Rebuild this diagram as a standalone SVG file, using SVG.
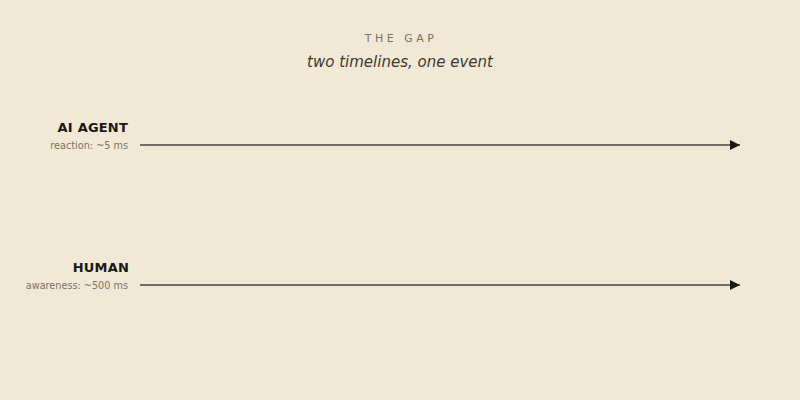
<svg xmlns="http://www.w3.org/2000/svg" width="800" height="400" viewBox="0 0 800 400">
<style>
.title{font-family:"DejaVu Sans",sans-serif;font-size:11px;letter-spacing:3.5px;fill:#7a7264;text-anchor:middle}
.sub{font-family:"DejaVu Sans",sans-serif;font-size:15px;font-style:italic;fill:#3d3832;text-anchor:middle}
.lab{font-family:"DejaVu Sans",sans-serif;font-size:13px;font-weight:bold;letter-spacing:0.2px;fill:#1c1814;text-anchor:end}
.note{font-family:"DejaVu Sans",sans-serif;font-size:9.7px;fill:#7a7264;text-anchor:end}
.tl{stroke:#4a4540;stroke-width:1.5;fill:none}
</style>
<defs>
<marker id="arr" markerWidth="10" markerHeight="10" refX="10" refY="5" orient="auto" markerUnits="userSpaceOnUse" viewBox="0 0 10 10">
<path d="M0,0 L10,5 L0,10 Z" fill="#1c1814"/>
</marker>
</defs>
<rect width="800" height="400" fill="#f2e8d6"/>
<text class="title" x="401" y="42">THE GAP</text>
<text class="sub" x="400" y="66.5">two timelines, one event</text>
<g id="connectors">
<line class="tl" x1="140" y1="145" x2="740" y2="145" marker-end="url(#arr)"/>
<line class="tl" x1="140" y1="285" x2="740" y2="285" marker-end="url(#arr)"/>
</g>
<g id="ai-agent">
<text class="lab" x="128" y="132">AI AGENT</text>
<text class="note" x="128" y="149">reaction: ~5 ms</text>
</g>
<g id="human">
<text class="lab" x="129" y="272">HUMAN</text>
<text class="note" x="128" y="289">awareness: ~500 ms</text>
</g>
</svg>
